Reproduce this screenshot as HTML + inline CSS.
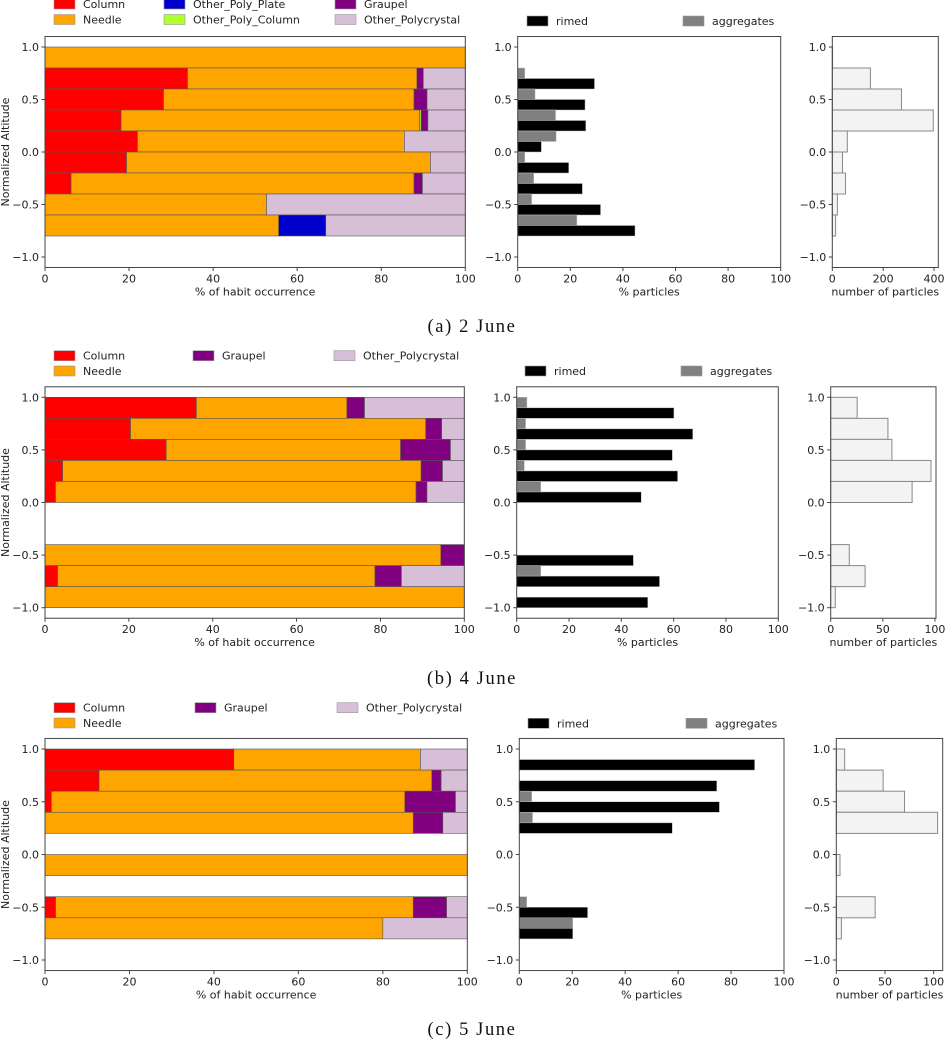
<!DOCTYPE html>
<html><head><meta charset="utf-8"><style>
html,body{margin:0;padding:0;background:#fff;}
svg{display:block;font-family:"DejaVu Sans","Liberation Sans",sans-serif;}
.cap{font-family:"Liberation Serif",serif;font-size:18.5px;letter-spacing:1.6px;}
</style></head><body>
<svg id="fig" width="945" height="1042" viewBox="0 0 945 1042" xmlns="http://www.w3.org/2000/svg"></svg>
<script>
// Shared bin tops (altitude), each bin is 0.2 wide
const binTops = [1.0, 0.8, 0.6, 0.4, 0.2, 0.0, -0.2, -0.4, -0.6, -0.8];
const habitNames = ["Column","Needle","Other_Poly_Plate","Other_Poly_Column","Graupel","Other_Polycrystal"];
const habitColors = ["#ff0000","#ffa500","#0000cd","#adff2f","#800080","#d8bfd8"];
const yTicks = [1.0, 0.5, 0.0, -0.5, -1.0];
const pctTicks = [0, 20, 40, 60, 80, 100];

// Panel a (2 June)
const aColumn  = [0,33.9,28.2,18.1,22.0,19.4,6.2,0,0,0];
const aNeedle  = [100,54.6,59.6,71.0,63.5,72.3,81.6,52.7,55.6,0];
const aPlate   = [0,0,0,0,0,0,0,0,11.2,0];
const aPolyCol = [0,0,0,0.4,0,0,0,0,0,0];
const aGraupel = [0,1.5,3.1,1.6,0,0,2.0,0,0,0];
const aPoly    = [0,10.0,9.1,8.9,14.5,8.3,10.2,47.3,33.2,0];
const aRimed   = [0,29.2,25.6,25.9,9.0,19.4,24.6,31.5,44.6,0];
const aAgg     = [0,2.7,6.6,14.4,14.6,2.7,6.1,5.3,22.5,0];
const aCount   = [1,150,272,397,59,40,52,20,13,0];
const aCountTicks = [0,200,400];

// Panel b (4 June)
const bColumn  = [36.1,20.4,28.9,4.2,2.5,0,0,0,3.0,0];
const bNeedle  = [35.9,70.4,55.9,85.5,86.0,0,0,94.4,75.7,100];
const bGraupel = [4.2,3.8,11.9,5.1,2.6,0,0,5.6,6.3,0];
const bPoly    = [23.8,5.4,3.3,5.2,8.9,0,0,0,15.0,0];
const bRimed   = [60.1,67.3,59.5,61.5,47.6,0,0,44.6,54.6,50.1];
const bAgg     = [3.9,3.4,3.4,2.9,9.2,0,0,0,9.2,0];
const bCount   = [25.4,54.9,58.7,96.2,78.1,0,0,17.8,33.0,4.4];
const bCountTicks = [0,50,100];

// Panel c (5 June)
const cColumn  = [44.7,12.8,1.5,0,0,0,0,2.5,0,0];
const cNeedle  = [44.2,78.8,83.7,87.2,0,100,0,84.7,80.0,0];
const cGraupel = [0,2.2,12.0,7.0,0,0,0,7.9,0,0];
const cPoly    = [11.1,6.2,2.8,5.8,0,0,0,4.9,20.0,0];
const cRimed   = [88.9,74.6,75.6,57.8,0,0,0,25.8,20.2,0];
const cAgg     = [0,0,4.7,5.0,0,0,0,2.8,20.2,0];
const cCount   = [8.6,48.1,70.1,104.1,0,3.8,0,39.9,5.2,0];
const cCountTicks = [0,50,100];

const Z = [0,0,0,0,0,0,0,0,0,0];
const NS = "http://www.w3.org/2000/svg";
const fig = document.getElementById("fig");
function mk(tag, attrs, parent){
  const e = document.createElementNS(NS, tag);
  for (const k in attrs) e.setAttribute(k, attrs[k]);
  (parent||fig).appendChild(e);
  return e;
}
function fmtY(v){ return (v<0?"\u2212":"") + Math.abs(v).toFixed(1); }

function drawAxes(g, x0, x1, yScale, xScale, xTicks, xlabel, showYLabel, name){
  const yt = yScale(1.1), yb = yScale(-1.1);
  const box = mk("rect",{x:x0,y:yt,width:x1-x0,height:yb-yt,fill:"none",stroke:"#444","stroke-width":1},g);
  
  
  yTicks.forEach(v=>{
    const y = yScale(v);
    const tk = mk("line",{x1:x0-3.5,x2:x0,y1:y,y2:y,stroke:"#444"},g);
    
    
    const t = mk("text",{x:x0-6,y:y+4,"text-anchor":"end","font-size":"11px",fill:"#222"},g);
    t.textContent = fmtY(v);
    
    
  });
  xTicks.forEach(v=>{
    const x = xScale(v);
    const tk = mk("line",{x1:x,x2:x,y1:yb,y2:yb+3.5,stroke:"#444"},g);
    
    
    const t = mk("text",{x:x,y:yb+15,"text-anchor":"middle","font-size":"11px",fill:"#222"},g);
    t.textContent = String(v);
    
    
  });
  const xl = mk("text",{x:(x0+x1)/2,y:yb+28,"text-anchor":"middle","font-size":"11px",fill:"#222"},g);
  xl.textContent = xlabel;
  
  
  if (showYLabel){
    const cy = (yt+yb)/2;
    const yl = mk("text",{x:9,y:cy,"text-anchor":"middle","font-size":"11px",fill:"#222",transform:"rotate(-90 9 "+cy+")"},g);
    yl.textContent = "Normalized Altitude";
    
    
  }
}

function legendEntry(g, x, y, color, label, name){
  const r = mk("rect",{x:x,y:y-5,width:21,height:10,fill:color,stroke:"#999","stroke-width":0.6},g);
  
  
  const t = mk("text",{x:x+29,y:y+4,"font-size":"11px",fill:"#222"},g);
  t.textContent = label;
  
  
}

function panel(p){
  const g = mk("g",{});
  
  
  const u = (p.ym1 - p.y1)/2;
  const yScale = v => p.y1 + (1 - v)*u;

  const hg = mk("g",{},g);
  
  
  const hx = v => p.L[0] + v/100*(p.L[1]-p.L[0]);
  binTops.forEach((top,i)=>{
    let cum = 0;
    p.habits.forEach((arr,k)=>{
      const v = arr[i];
      if (v>0){
        const r = mk("rect",{x:hx(cum),y:yScale(top),width:hx(cum+v)-hx(cum),height:yScale(top-0.2)-yScale(top),fill:habitColors[k],stroke:"#555","stroke-width":0.6},hg);
        
        
      }
      cum += v;
    });
  });
  drawAxes(hg, p.L[0], p.L[1], yScale, hx, pctTicks, "% of habit occurrence", true, 'habit-'+p.id);

  const mg = mk("g",{},g);
  
  
  const mx = v => p.M[0] + v/100*(p.M[1]-p.M[0]);
  binTops.forEach((top,i)=>{
    if (p.agg[i]>0){
      const r = mk("rect",{x:mx(0),y:yScale(top),width:mx(p.agg[i])-mx(0),height:yScale(top-0.1)-yScale(top),fill:"#808080",stroke:"#bbb","stroke-width":0.5},mg);
      
      
    }
    if (p.rimed[i]>0){
      const r = mk("rect",{x:mx(0),y:yScale(top-0.1),width:mx(p.rimed[i])-mx(0),height:yScale(top-0.2)-yScale(top-0.1),fill:"#000",stroke:"#bbb","stroke-width":0.5},mg);
      
      
    }
  });
  drawAxes(mg, p.M[0], p.M[1], yScale, mx, pctTicks, "% particles", false, 'particle-'+p.id);

  const rg = mk("g",{},g);
  
  
  const cmax = Math.max(...p.count)*1.05;
  const rx = v => p.R[0] + v/cmax*(p.R[1]-p.R[0]);
  binTops.forEach((top,i)=>{
    if (p.count[i]>0){
      const r = mk("rect",{x:rx(0),y:yScale(top),width:rx(p.count[i])-rx(0),height:yScale(top-0.2)-yScale(top),fill:"#f3f3f3",stroke:"#888","stroke-width":1},rg);
      
      
    }
  });
  drawAxes(rg, p.R[0], p.R[1], yScale, rx, p.countTicks, "number of particles", false, 'count-'+p.id);

  const lg = mk("g",{},g);
  
  
  p.legend.forEach(e=> legendEntry(lg, e[0], e[1], habitColors[e[2]], habitNames[e[2]], 'legend-entry'));
  const lg2 = mk("g",{},g);
  
  
  legendEntry(lg2, p.ml[0], p.ml[2], "#000", "rimed", 'legend-rimed');
  legendEntry(lg2, p.ml[1], p.ml[2], "#808080", "aggregates", 'legend-aggregates');

  const cap = mk("text",{x:472,y:p.capY,"text-anchor":"middle","class":"cap",fill:"#111"},g);
  cap.textContent = p.caption;
  
  
}

panel({id:"a", y1:47, ym1:257, L:[45,465.3], M:[517.7,780.7], R:[832.3,938.3],
  habits:[aColumn,aNeedle,aPlate,aPolyCol,aGraupel,aPoly], rimed:aRimed, agg:aAgg, count:aCount, countTicks:aCountTicks,
  legend:[[54,4,0],[54,19.5,1],[164,4,2],[164,19.5,3],[335,4,4],[335,19.5,5]],
  ml:[527,683,21], capY:332, caption:"(a) 2 June"});
panel({id:"b", y1:397.3, ym1:607.7, L:[45,464.3], M:[516.7,778.3], R:[830.7,936],
  habits:[bColumn,bNeedle,Z,Z,bGraupel,bPoly], rimed:bRimed, agg:bAgg, count:bCount, countTicks:bCountTicks,
  legend:[[54,355.7,0],[54,371,1],[193,355.7,4],[334,355.7,5]],
  ml:[525,681,371], capY:684, caption:"(b) 4 June"});
panel({id:"c", y1:749, ym1:960, L:[45,467.3], M:[519.3,784], R:[836.3,942.7],
  habits:[cColumn,cNeedle,Z,Z,cGraupel,cPoly], rimed:cRimed, agg:cAgg, count:cCount, countTicks:cCountTicks,
  legend:[[54,707.7,0],[54,723,1],[195,707.7,4],[337,707.7,5]],
  ml:[528,686,723.3], capY:1035, caption:"(c) 5 June"});
</script>
</body></html>
